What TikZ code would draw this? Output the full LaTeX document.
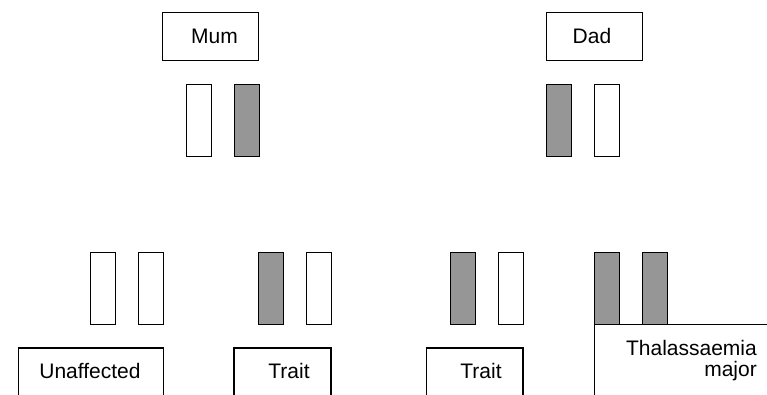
\documentclass[tikz,border=0pt]{standalone}
\usepackage{fontspec}
\setmainfont{Liberation Sans}
\definecolor{chromgrey}{RGB}{150,150,150}
\begin{document}
\begin{tikzpicture}[x=1pt,y=-1pt,
  frame/.style={draw, line width=1.4pt, fill=white, inner sep=0pt, anchor=north west},
  chrom/.style={frame, minimum width=24.5pt, minimum height=72pt},
  normal/.style={chrom, fill=white},
  carrier/.style={chrom, fill=chromgrey},
  caption/.style={font=\fontsize{21}{22}\selectfont, inner sep=0pt, anchor=base}
]
\useasboundingbox (0,0) rectangle (767,394);
\clip (0,0) rectangle (767,394);

% parents
\node[frame, minimum width=96pt, minimum height=48pt] (mumbox) at (162,12) {};
\node[frame, minimum width=96pt, minimum height=48pt] (dadbox) at (546,12) {};
\node[caption] (mum) at (214.5,43.3) {Mum};
\node[caption] (dad) at (592,43.3) {Dad};

% parents' chromosome pairs
\node[normal]  (m1) at (186,83.5) {};
\node[carrier] (m2) at (234,83.5) {};
\node[carrier] (d1) at (546,83.5) {};
\node[normal]  (d2) at (594,83.5) {};

% children's outcome boxes (run off the lower and right edges)
\node[frame, minimum width=145pt, minimum height=80pt] (c1box) at (17.7,347.3) {};
\node[frame, minimum width=97pt, minimum height=80pt] (c2box) at (233.3,347.3) {};
\node[frame, minimum width=96.3pt, minimum height=80pt] (c3box) at (426,347.3) {};
\node[frame, minimum width=220pt, minimum height=100pt] (c4box) at (594,323.8) {};

% children's chromosome pairs
\node[normal]  (a1) at (90,252) {};
\node[normal]  (a2) at (138,252) {};
\node[carrier] (b1) at (258,252) {};
\node[normal]  (b2) at (306,252) {};
\node[carrier] (e1) at (450,252) {};
\node[normal]  (e2) at (498,252) {};
\node[carrier] (f1) at (594,252) {};
\node[carrier] (f2) at (642,252) {};

% outcome labels
\node[caption] (unaff) at (90,378) {Unaffected};
\node[caption] (trait1) at (289,378) {Trait};
\node[caption] (trait2) at (481,378) {Trait};
\node[caption, anchor=base east] (thal) at (757,355) {Thalassaemia};
\node[caption, anchor=base east] (major) at (757,376.5) {major};
\end{tikzpicture}
\end{document}
